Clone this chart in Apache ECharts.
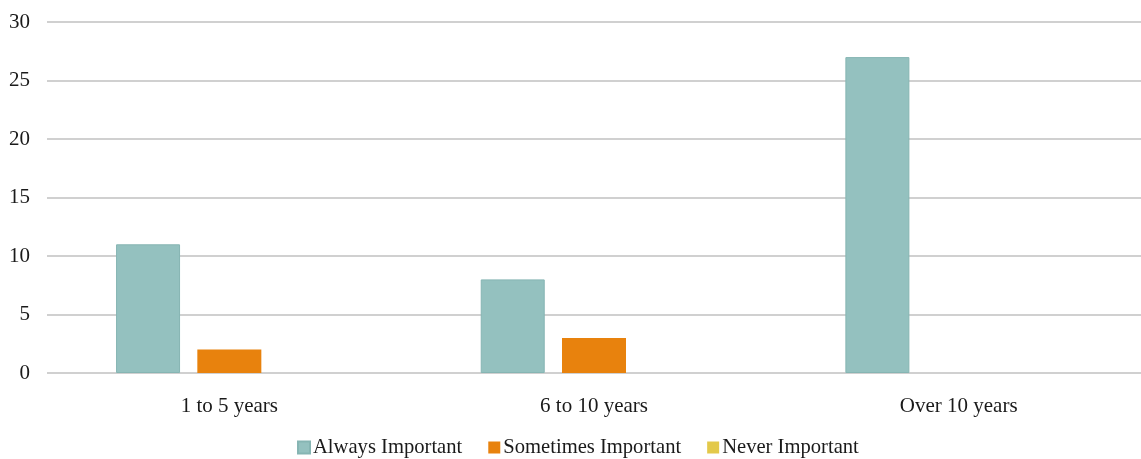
<!DOCTYPE html>
<html>
<head>
<meta charset="utf-8">
<script src="https://cdn.jsdelivr.net/npm/echarts@6/dist/echarts.min.js"></script>
<style>
  html, body { margin: 0; padding: 0; background: #fff; }
  #chart { width: 1141px; height: 459px; }
</style>
</head>
<body>
<div id="chart"></div>
<script>
// Experience groups and responses per group
const categories = ['1 to 5 years', '6 to 10 years', 'Over 10 years'];
const alwaysImportant = [11, 8, 27];
const sometimesImportant = [2, 3, 0];
const neverImportant = [0, 0, 0];
const yTicks = [0, 5, 10, 15, 20, 25, 30];

const chart = echarts.init(document.getElementById('chart'));
const font = 'Liberation Serif';

chart.setOption({
  animation: false,
  textStyle: { fontFamily: font },
  grid: { left: 47, right: -2, top: 22, bottom: 86, containLabel: false },
  legend: {
    bottom: -4,
    left: 292,
    itemWidth: 12,
    itemHeight: 12,
    itemGap: 26,
    icon: 'rect',
    textStyle: { fontFamily: font, fontSize: 20.6, color: '#1a1a1a', padding: [0, 0, 0, -2] },
    data: ['Always Important', 'Sometimes Important', 'Never Important']
  },
  xAxis: {
    type: 'category',
    data: categories,
    axisLine: { show: false },
    axisTick: { show: false },
    axisLabel: { fontFamily: font, fontSize: 21, color: '#1a1a1a', margin: 23 }
  },
  yAxis: {
    type: 'value',
    min: yTicks[0],
    max: yTicks[yTicks.length - 1],
    interval: 5,
    axisLine: { show: false },
    axisTick: { show: false },
    axisLabel: { fontFamily: font, fontSize: 21, color: '#1a1a1a', margin: 17 },
    splitLine: { lineStyle: { color: '#d0d0d0', width: 2 } }
  },
  series: [
    {
      name: 'Always Important', type: 'bar', data: alwaysImportant,
      barWidth: 64, barGap: '27%',
      itemStyle: { color: '#94c1bf', borderColor: '#86b5b3', borderWidth: 1 }
    },
    {
      name: 'Sometimes Important', type: 'bar', data: sometimesImportant,
      barWidth: 64, barGap: '27%',
      itemStyle: { color: '#e8820d' }
    },
    {
      name: 'Never Important', type: 'bar', data: neverImportant,
      barWidth: 64, barGap: '27%',
      itemStyle: { color: '#e3c94a' }
    }
  ]
});
</script>
</body>
</html>
